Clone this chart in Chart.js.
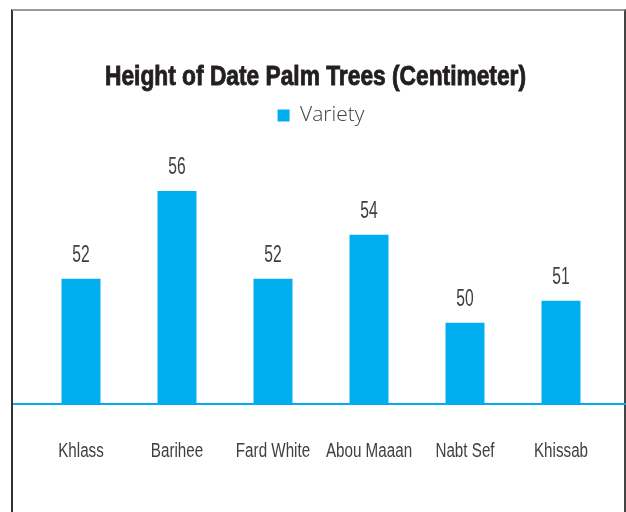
<!DOCTYPE html>
<html>
<head>
<meta charset="utf-8">
<script src="https://cdn.jsdelivr.net/npm/chart.js@4"></script>
<style>
  html, body { margin: 0; padding: 0; background: #fff; }
  #wrap { position: relative; width: 626px; height: 512px; overflow: hidden; }
  #frame { position: absolute; left: 11px; top: 9px; width: 615px; height: 600px; border-left: 2px solid #333; border-right: 2px solid #444; border-top: 2px solid #999; box-sizing: border-box; }
  canvas { position: absolute; left: 0; top: 0; }
</style>
</head>
<body>
<div id="wrap">
  <div id="frame"></div>
  <canvas id="graphicPalmHeights" width="626" height="512"></canvas>
</div>
<script>
const chartTitle = 'Height of Date Palm Trees (Centimeter)';
const varieties = ['Khlass', 'Barihee', 'Fard White', 'Abou Maaan', 'Nabt Sef', 'Khissab'];
const heights = [52, 56, 52, 54, 50, 51];

const barBlue = '#00aeef';
const textGrey = '#404040';

// texte "condensé" : pas de police étroite installée, on compresse en largeur
function narrowText(ctx, text, x, y, sx, stroke) {
  ctx.save();
  ctx.translate(x, y);
  ctx.scale(sx, 1);
  ctx.fillText(text, 0, 0);
  if (stroke) ctx.strokeText(text, 0, 0);
  ctx.restore();
}

const textLayer = {
  id: 'textLayer',
  afterDatasetsDraw(chart) {
    const ctx = chart.ctx;
    const meta = chart.getDatasetMeta(0);
    const xScale = chart.scales.x;
    ctx.save();
    ctx.textAlign = 'center';
    ctx.textBaseline = 'alphabetic';

    // titre (un peu de contour pour l'épaissir)
    ctx.fillStyle = '#231f20';
    ctx.strokeStyle = '#231f20';
    ctx.lineWidth = 0.9;
    ctx.font = "bold 28px 'Liberation Sans', sans-serif";
    const w = ctx.measureText(chartTitle).width;
    narrowText(ctx, chartTitle, 315.5, 85, 421 / w, true);

    // valeurs au-dessus des barres
    ctx.fillStyle = textGrey;
    ctx.font = "23px 'Liberation Sans', sans-serif";
    meta.data.forEach((bar, i) => {
      narrowText(ctx, String(heights[i]), bar.x, bar.y - 17, 0.68);
    });

    // étiquettes de l'axe X
    ctx.font = "20px 'Liberation Sans', sans-serif";
    varieties.forEach((v, i) => {
      narrowText(ctx, v, xScale.getPixelForValue(i), 457, 0.76);
    });

    // ligne de base bleue sur toute la largeur
    const y = chart.chartArea.bottom;
    ctx.strokeStyle = barBlue;
    ctx.lineWidth = 2;
    ctx.beginPath();
    ctx.moveTo(13, y);
    ctx.lineTo(chart.width, y);
    ctx.stroke();
    ctx.restore();
  }
};

new Chart(document.getElementById('graphicPalmHeights'), {
  type: 'bar',
  data: {
    labels: varieties,
    datasets: [{
      label: 'Variety',
      data: heights,
      backgroundColor: barBlue,
      borderWidth: 0,
      barPercentage: 0.406,
      categoryPercentage: 1
    }]
  },
  options: {
    responsive: false,
    animation: false,
    layout: { padding: { top: 95, left: 33, right: 17, bottom: 108 } },
    plugins: {
      title: { display: false },
      legend: {
        display: true,
        labels: {
          color: textGrey,
          boxWidth: 12,
          boxHeight: 12,
          padding: 10,
          font: { family: "'Open Sans', sans-serif", size: 21, weight: '300' }
        }
      },
      tooltip: { enabled: false }
    },
    scales: {
      x: {
        display: false
      },
      y: {
        display: false,
        min: 46.3,
        max: 58.5
      }
    }
  },
  plugins: [textLayer]
});
</script>
</body>
</html>
